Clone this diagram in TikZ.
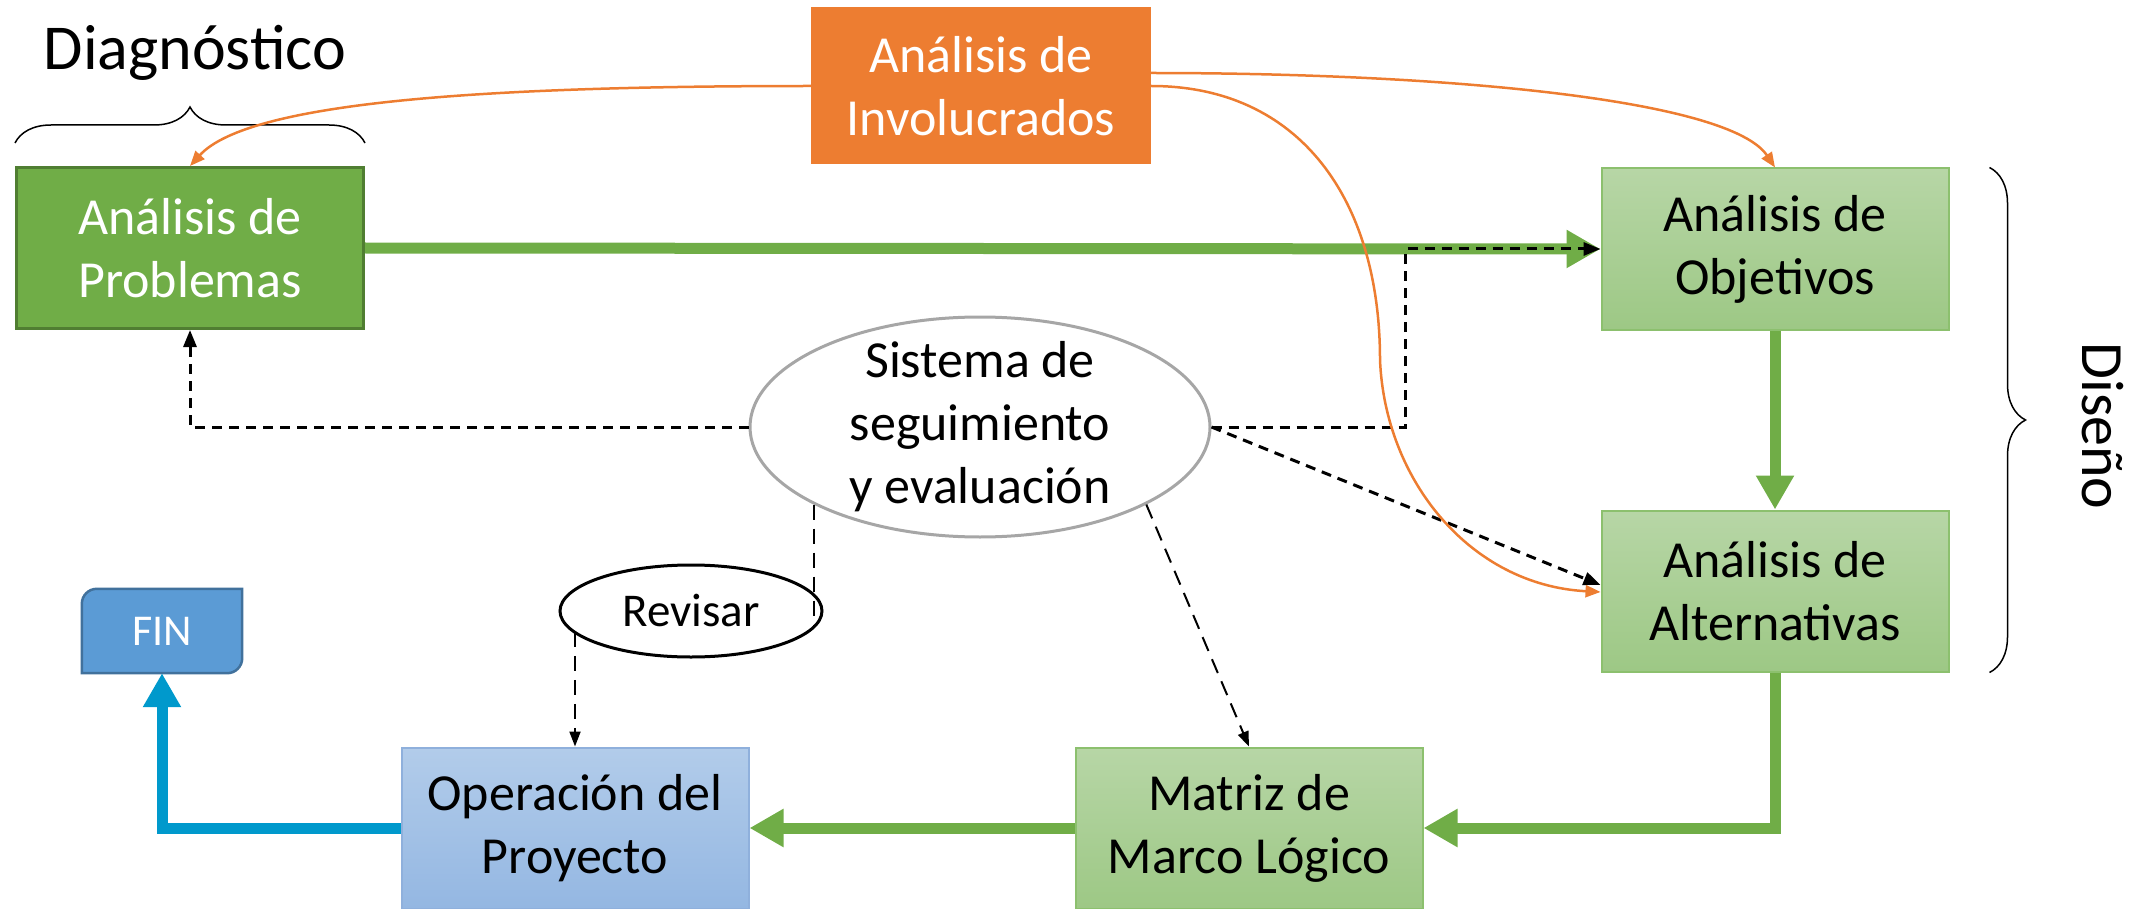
\documentclass[tikz,border=0pt]{standalone}
\usepackage{fontspec}
\setmainfont{Carlito}
\usepackage{tikz}
\usetikzlibrary{arrows.meta,shapes.geometric,decorations.pathreplacing,backgrounds}

\definecolor{verde}{RGB}{112,173,71}
\definecolor{verdeosc}{RGB}{80,126,50}
\definecolor{verdearr}{RGB}{183,214,166}
\definecolor{verdeaba}{RGB}{157,200,133}
\definecolor{verdeborde}{RGB}{140,192,110}
\definecolor{naranja}{RGB}{237,125,49}
\definecolor{azularr}{RGB}{178,204,234}
\definecolor{azulaba}{RGB}{148,183,226}
\definecolor{azulborde}{RGB}{143,176,220}
\definecolor{azulfin}{RGB}{91,155,213}
\definecolor{azulfinborde}{RGB}{65,113,156}
\definecolor{cian}{RGB}{0,153,204}
\definecolor{gris}{RGB}{166,166,166}

\begin{document}
\begin{tikzpicture}[x=1pt,y=1pt,font=\fontsize{52pt}{63pt}\selectfont,
    box/.style={rectangle,minimum width=347pt,minimum height=161pt,inner sep=0pt,align=center},
    dark box/.style={box,fill=verde,draw=verdeosc,line width=3pt,text=white},
    light box/.style={box,top color=verdearr,bottom color=verdeaba,draw=verdeborde,line width=2pt},
    blue box/.style={box,top color=azularr,bottom color=azulaba,draw=azulborde,line width=2pt},
    flow/.style={line width=11pt,-{Triangle[length=34pt,width=36pt]}},
    link/.style={naranja,line width=2.5pt,-{Triangle[length=15pt,width=12pt]}},
    track/.style={line width=3pt,dash pattern=on 10pt off 7pt,-{Triangle[length=17pt,width=13pt]}},
    thin track/.style={line width=2pt,dash pattern=on 15pt off 9pt,-{Triangle[length=15pt,width=11pt]}},
    brace/.style={decorate,decoration={brace,amplitude=36pt},line width=1.5pt}]

  \useasboundingbox (0,0) rectangle (2149,-909);

  \node[dark box] (prob) at (190,-248) {Análisis de\\Problemas};
  \node[box,fill=naranja,text=white,minimum width=340pt,minimum height=157pt] (inv) at (981,-86) {Análisis de\\Involucrados};
  \node[light box] (obj) at (1775,-249) {Análisis de\\Objetivos};
  \node[light box] (alt) at (1775,-591) {Análisis de\\Alternativas};
  \node[light box] (mat) at (1249,-828) {Matriz de\\Marco Lógico};
  \node[blue box] (op) at (575,-828) {Operación del\\Proyecto};
  \node[ellipse,draw=gris,fill=white,line width=3pt,minimum width=460pt,minimum height=220pt] (sse) at (980,-427) {};
  \node[align=center] (ssetext) at (sse) {Sistema de\\seguimiento\\y evaluación};
  \node[ellipse,draw,line width=3pt,minimum width=262pt,minimum height=92pt,inner sep=0pt,
        font=\fontsize{47pt}{56pt}\selectfont] (rev) at (691,-611) {Revisar};
  \node[minimum width=160pt,minimum height=84pt,inner sep=0pt,text=white,
        font=\fontsize{44pt}{50pt}\selectfont] (fin) at (162,-631) {FIN};
  \node[anchor=base,font=\fontsize{64pt}{70pt}\selectfont] (diag) at (195,-70) {Diagnóstico};
  \node[rotate=-90,font=\fontsize{60pt}{66pt}\selectfont] (dis) at (2103,-426) {Diseño};

  \begin{scope}[on background layer]
    \filldraw[fill=azulfin,draw=azulfinborde,line width=2.5pt]
      (fin.south west) -- ([yshift=-15pt]fin.north west) arc[start angle=180,end angle=90,radius=15pt]
      -- (fin.north east) -- ([yshift=15pt]fin.south east) arc[start angle=0,end angle=-90,radius=15pt] -- cycle;
  \end{scope}

  \draw[brace] ([yshift=23pt]prob.north west) -- ([yshift=23pt]prob.north east);
  \draw[brace] ([xshift=40pt]obj.north east) -- ([xshift=40pt]alt.south east);

  \draw[flow,verde] (prob.east) -- (obj.west);
  \draw[flow,verde] (obj.south) -- (alt.north);
  \draw[flow,verde] (alt.south) |- (mat.east);
  \draw[flow,verde] (mat.west) -- (op.east);
  \draw[flow,cian] (op.west) -| (fin.south);

  \draw[track] (sse.west) -| (prob.south);
  \draw[track] (sse.east) -- ++(194,0) |- (obj.west);
  \draw[track] (sse.east) -- ([yshift=6pt]alt.west);
  \draw[thin track] (sse.-25) -- (mat.north);
  \draw[thin track,-] (sse.205) -- (sse.205 |- rev.-8);
  \draw[thin track] (op.north |- rev.190) -- (op.north);

  \coordinate (bend) at (1380,-360);
  \draw[link] (inv.west) .. controls (500,-86) and (250,-100) .. (prob.north);
  \draw[link] ([yshift=13pt]inv.east) .. controls (1450,-73) and (1730,-100) .. (obj.north);
  \draw[link] (inv.east) .. controls (1300,-86) and (1380,-200) .. (bend)
    .. controls (1385,-480) and (1470,-585) .. ([yshift=-1pt]alt.west);
\end{tikzpicture}
\end{document}
